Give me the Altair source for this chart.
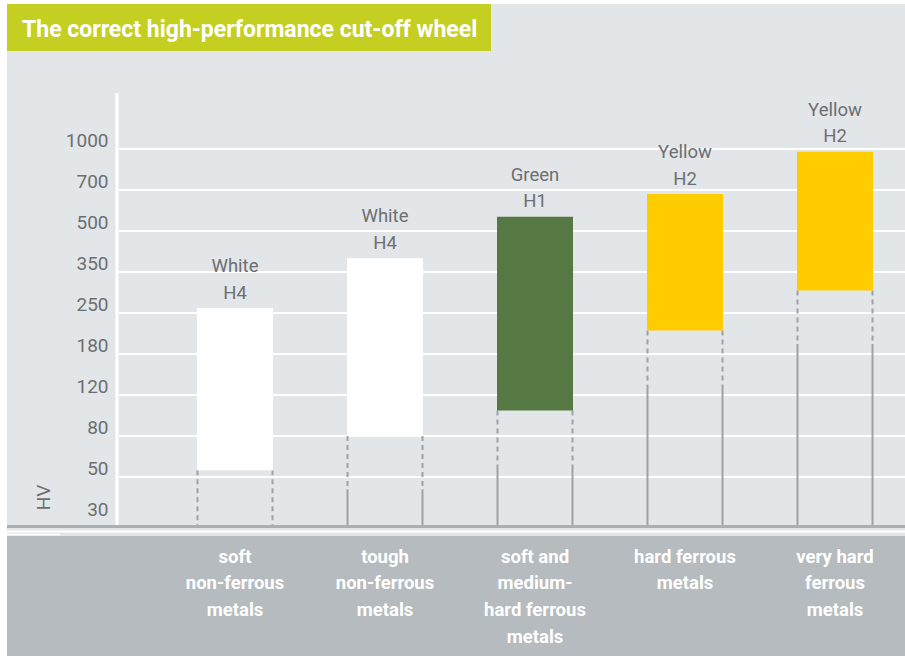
import altair as alt
import pandas as pd

# ---------------- data ----------------
categories = [
    "soft|non-ferrous|metals",
    "tough|non-ferrous|metals",
    "soft and|medium-|hard ferrous|metals",
    "hard ferrous|metals",
    "very hard|ferrous|metals",
]
wheel_color = ["White", "White", "Green", "Yellow", "Yellow"]
wheel_grade = ["H4", "H4", "H1", "H2", "H2"]
hv_low = [55, 80, 105, 220, 305]
hv_high = [262, 400, 570, 680, 980]
dash_end = [26.6, 44, 59, 135, 197]
y_ticks = [30, 50, 80, 120, 180, 250, 350, 500, 700, 1000]
grid_ticks = [50, 80, 120, 180, 250, 350, 500, 700, 1000]
color_names = ["White", "Green", "Yellow"]
color_values = ["#ffffff", "#567843", "#ffcc00"]
title_text = "The correct high-performance cut-off wheel"

df = pd.DataFrame({
    "category": categories,
    "wheel": wheel_color,
    "grade": wheel_grade,
    "low": hv_low,
    "high": hv_high,
    "dash_end": dash_end,
})
df["label"] = df["wheel"] + "\n" + df["grade"]

# ---------------- layout ----------------
W, H = 788, 432
FONT = "Roboto, sans-serif"
GRAY_TXT = "#6c6f71"
LINE_GRAY = "#9ca2a6"
y_pix = [425 - 41 * i for i in range(len(y_ticks))]

x_enc = alt.X(
    "category:N",
    sort=categories,
    scale=alt.Scale(range=[43, 793], paddingInner=0, paddingOuter=0),
    axis=alt.Axis(
        title=None, orient="bottom", domain=False, ticks=False, tickSize=0,
        grid=False, labelAngle=0, labelPadding=22,
        labelExpr="split(datum.label, '|')",
        labelFont=FONT, labelFontSize=18.5, labelFontWeight="bold",
        labelColor="white", labelLineHeight=26.7, labelLimit=0, zindex=1,
    ),
)
y_scale = alt.Scale(domain=y_ticks, range=y_pix, nice=False, zero=False)
y_axis = alt.Axis(
    values=y_ticks, format="d", title="HV", titleX=-74, titleY=404, titleAngle=-90,
    titleAlign="center", titleBaseline="middle", titleFont=FONT,
    titleFontSize=19, titleFontWeight="normal", titleColor=GRAY_TXT,
    labelFont=FONT, labelFontSize=19, labelColor=GRAY_TXT, labelPadding=9,
    labelOffset=-9, ticks=False, tickSize=0, domain=False, grid=False,
    zindex=0,
)

base = alt.Chart(df)
one = alt.Chart(pd.DataFrame({"k": [0]}))

# decorations
band = one.mark_rect(color="#b5bbbe").encode(
    x=alt.value(-110), x2=alt.value(W), y=alt.value(443), y2=alt.value(H + 131)
)
white_line = one.mark_rule(color="white", strokeWidth=2).encode(
    x=alt.value(-110), x2=alt.value(W), y=alt.value(438.5)
)
stub = one.mark_rule(color="white", strokeWidth=1.5).encode(
    x=alt.value(-110), x2=alt.value(-57), y=alt.value(441.5)
)
axis_line = one.mark_rule(color="#a9afb2", strokeWidth=3).encode(
    x=alt.value(-110), x2=alt.value(W), y=alt.value(433.5)
)
y_line = one.mark_rule(color="white", strokeWidth=3).encode(
    x=alt.value(0), y=alt.value(0), y2=alt.value(H)
)
grid = alt.Chart(pd.DataFrame({"v": grid_ticks})).mark_rule(
    color="white", strokeWidth=2
).encode(y=alt.Y("v:Q", scale=y_scale, axis=y_axis), x=alt.value(2), x2=alt.value(W))
margin_left = one.mark_rect(color="white").encode(
    x=alt.value(-117), x2=alt.value(-110), y=alt.value(-93), y2=alt.value(H + 131)
)
margin_top = one.mark_rect(color="white").encode(
    x=alt.value(-117), x2=alt.value(W), y=alt.value(-93), y2=alt.value(-89)
)
title_box = one.mark_rect(color="#c4cf22").encode(
    x=alt.value(-110), x2=alt.value(374), y=alt.value(-89), y2=alt.value(-42)
)
title = alt.Chart(pd.DataFrame({"t": [title_text]})).mark_text(
    align="left", baseline="alphabetic", font=FONT, fontSize=23,
    fontWeight="bold", color="white"
).encode(x=alt.value(-95), y=alt.value(-56), text="t:N")

# rules below bars
solid_layers = []
dash_layers = []
for off in (-37.5, 37.5):
    solid_layers.append(
        base.transform_filter("datum.dash_end >= 30").mark_rule(
            color=LINE_GRAY, strokeWidth=2, xOffset=off
        ).encode(x=x_enc, y=alt.Y("dash_end:Q", scale=y_scale, axis=y_axis),
                 y2=alt.value(H))
    )
    dash_layers.append(
        base.mark_rule(color=LINE_GRAY, strokeWidth=2, strokeDash=[5, 4],
                       xOffset=off).encode(
            x=x_enc, y=alt.Y("low:Q", scale=y_scale, axis=y_axis),
            y2=alt.Y2("dash_end:Q"),
        )
    )

bars = base.mark_bar(size=76).encode(
    x=x_enc,
    y=alt.Y("high:Q", scale=y_scale, axis=y_axis),
    y2=alt.Y2("low:Q"),
    color=alt.Color("wheel:N", scale=alt.Scale(domain=color_names, range=color_values),
                    legend=None),
)

labels = base.mark_text(
    baseline="bottom", align="center", dy=-32, font=FONT, fontSize=18.5,
    color=GRAY_TXT, lineBreak="\n", lineHeight=26.5,
).encode(x=x_enc, y=alt.Y("high:Q", scale=y_scale, axis=y_axis), text="label:N")

chart = alt.layer(
    margin_left, margin_top, grid, band, white_line, stub, axis_line,
    *solid_layers, *dash_layers, y_line, bars, labels, title_box, title,
).properties(
    width=W, height=H,
    autosize=alt.AutoSizeParams(type="none"),
    padding={"left": 117, "top": 93, "right": 0, "bottom": 131},
    background="#e3e6e9",
).configure_view(stroke=None)

chart.save("out.html", embed_options={"renderer": "svg", "actions": False})
